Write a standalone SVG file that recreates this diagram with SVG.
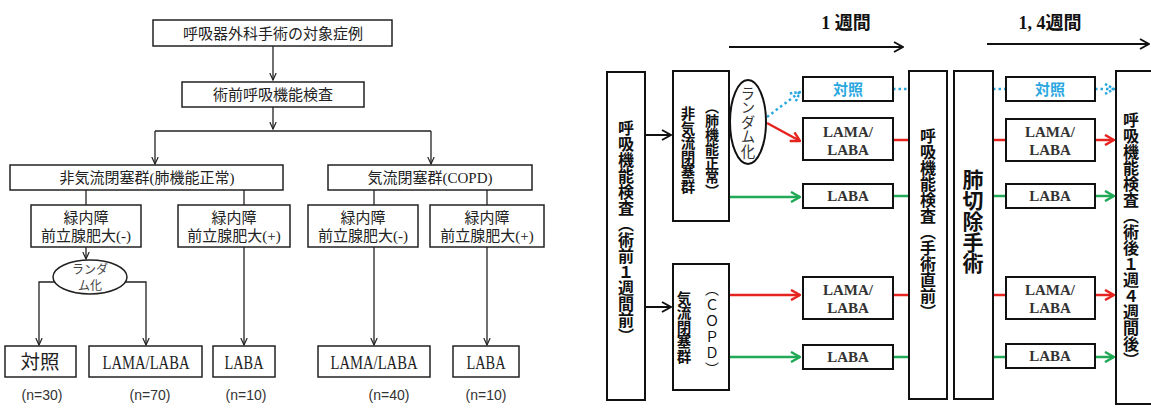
<svg xmlns="http://www.w3.org/2000/svg" width="1151" height="410" viewBox="0 0 1151 410">
<defs>
<style>
.bx{fill:#fff;stroke:#222;stroke-width:1.5}
.ln{fill:none;stroke:#222;stroke-width:1.3}
.jp{font-family:"Liberation Serif","Noto Sans CJK JP",serif;fill:#222;font-size:15px;text-anchor:middle}
.big{font-family:"Liberation Serif","Noto Sans CJK JP",serif;fill:#222;font-size:19.5px;text-anchor:middle}
.rnd{font-family:"Noto Sans CJK JP",sans-serif;fill:#444;font-size:12px;text-anchor:middle}
.n{font-family:"Liberation Sans",Arial,sans-serif;font-size:14px;fill:#333;text-anchor:middle}
.rb{fill:#fff;stroke:#111;stroke-width:2}
.vt{font-family:"Noto Sans CJK JP",sans-serif;font-weight:bold;font-size:16px;fill:#111;writing-mode:vertical-rl;text-anchor:middle}
.lt{font-family:"Liberation Serif",serif;font-weight:bold;font-size:15px;fill:#333;text-anchor:middle}
.bt{font-family:"Noto Sans CJK JP",sans-serif;font-weight:bold;font-size:15px;fill:#2aa7df;text-anchor:middle}
.hd{font-family:"Liberation Serif","Noto Sans CJK JP",serif;font-weight:bold;font-size:18px;fill:#111;text-anchor:middle}
.k{fill:none;stroke:#111;stroke-width:2}
.r{fill:none;stroke:#e52420;stroke-width:2.5}
.g{fill:none;stroke:#20a956;stroke-width:2.5}
.b{fill:none;stroke:#2aa7df;stroke-width:2.5;stroke-dasharray:2.5 3}
</style>
<marker id="aL" markerUnits="userSpaceOnUse" markerWidth="8" markerHeight="8" viewBox="0 0 8 8" refX="7.5" refY="4" orient="auto"><path d="M0.5,0.8 L7.5,4 L0.5,7.2" fill="none" stroke="#222" stroke-width="1.2"/></marker>
<marker id="aK" markerUnits="userSpaceOnUse" markerWidth="12" markerHeight="12" viewBox="0 0 12 12" refX="11" refY="6" orient="auto"><path d="M2,1 L11,6 L2,11" fill="none" stroke="#111" stroke-width="2"/></marker>
<marker id="aR" markerUnits="userSpaceOnUse" markerWidth="12" markerHeight="12" viewBox="0 0 12 12" refX="11" refY="6" orient="auto"><path d="M2,1 L11,6 L2,11" fill="none" stroke="#e52420" stroke-width="2.5"/></marker>
<marker id="aG" markerUnits="userSpaceOnUse" markerWidth="12" markerHeight="12" viewBox="0 0 12 12" refX="11" refY="6" orient="auto"><path d="M2,1 L11,6 L2,11" fill="none" stroke="#20a956" stroke-width="2.5"/></marker>
<marker id="aB" markerUnits="userSpaceOnUse" markerWidth="12" markerHeight="12" viewBox="0 0 12 12" refX="11" refY="6" orient="auto"><path d="M2,1 L11,6 L2,11" fill="none" stroke="#2aa7df" stroke-width="2.5" stroke-dasharray="2.5 2"/></marker>
</defs>
<rect width="1151" height="410" fill="#fff"/>

<!-- LEFT DIAGRAM connectors -->
<g id="left-connectors" class="ln">
<path d="M273,46 V80" marker-end="url(#aL)"/>
<path d="M273,107 V129" marker-end="url(#aL)"/>
<path d="M155,131 H431"/>
<path d="M155,131 V164" marker-end="url(#aL)"/>
<path d="M431,131 V164" marker-end="url(#aL)"/>
<path d="M86,190 V205"/>
<path d="M244,190 V205"/>
<path d="M374,190 V205"/>
<path d="M487,190 V205"/>
<path d="M86,247 V259" marker-end="url(#aL)"/>
<path d="M55,282 H39 V345" marker-end="url(#aL)"/>
<path d="M125,282 H146 V345" marker-end="url(#aL)"/>
<path d="M244,247 V345" marker-end="url(#aL)"/>
<path d="M374,247 V345" marker-end="url(#aL)"/>
<path d="M487,247 V345" marker-end="url(#aL)"/>
</g>

<g id="l-target"><rect class="bx" x="153" y="20" width="239" height="26"/><text class="jp" x="273" y="38.5">呼吸器外科手術の対象症例</text></g>
<g id="l-preop"><rect class="bx" x="182" y="82" width="182" height="25"/><text class="jp" x="273" y="100">術前呼吸機能検査</text></g>
<g id="l-nonobs"><rect class="bx" x="10" y="165" width="273" height="25"/><text class="jp" x="147" y="183">非気流閉塞群(肺機能正常)</text></g>
<g id="l-copd"><rect class="bx" x="328" y="165" width="204" height="25"/><text class="jp" x="430" y="183">気流閉塞群(COPD)</text></g>
<g id="l-a1"><rect class="bx" x="31" y="205" width="110" height="42"/><text class="jp" x="86" y="223">緑内障</text><text class="jp" x="86" y="241">前立腺肥大(-)</text></g>
<g id="l-a2"><rect class="bx" x="178" y="205" width="112" height="42"/><text class="jp" x="234" y="223">緑内障</text><text class="jp" x="234" y="241">前立腺肥大(+)</text></g>
<g id="l-b1"><rect class="bx" x="308" y="205" width="110" height="42"/><text class="jp" x="363" y="223">緑内障</text><text class="jp" x="363" y="241">前立腺肥大(-)</text></g>
<g id="l-b2"><rect class="bx" x="430" y="205" width="114" height="42"/><text class="jp" x="487" y="223">緑内障</text><text class="jp" x="487" y="241">前立腺肥大(+)</text></g>
<g id="l-random"><ellipse cx="90" cy="277" rx="37" ry="17" fill="#fff" stroke="#222" stroke-width="1.5"/><text class="rnd" x="90" y="273.5">ランダ</text><text class="rnd" x="90" y="289.5">ム化</text></g>
<g id="l-ctrl"><rect class="bx" x="5" y="346" width="71" height="31"/><text class="big" x="40" y="369">対照</text></g>
<g id="l-ll1"><rect class="bx" x="89" y="346" width="113" height="31"/><text class="big" x="146" y="369" textLength="87" lengthAdjust="spacingAndGlyphs">LAMA/LABA</text></g>
<g id="l-laba1"><rect class="bx" x="213" y="346" width="62" height="31"/><text class="big" x="244" y="369" textLength="39" lengthAdjust="spacingAndGlyphs">LABA</text></g>
<g id="l-ll2"><rect class="bx" x="318" y="346" width="112" height="31"/><text class="big" x="374" y="369" textLength="87" lengthAdjust="spacingAndGlyphs">LAMA/LABA</text></g>
<g id="l-laba2"><rect class="bx" x="453" y="346" width="66" height="31"/><text class="big" x="486" y="369" textLength="39" lengthAdjust="spacingAndGlyphs">LABA</text></g>
<g id="l-counts">
<text class="n" x="42" y="400">(n=30)</text>
<text class="n" x="150" y="400">(n=70)</text>
<text class="n" x="246" y="400">(n=10)</text>
<text class="n" x="389" y="400">(n=40)</text>
<text class="n" x="486" y="400">(n=10)</text>
</g>

<!-- RIGHT DIAGRAM -->
<g id="timeline">
<text class="hd" x="846" y="29">1 週間</text>
<path class="k" d="M729,47 H903" marker-end="url(#aK)"/>
<text class="hd" x="1050" y="29">1, 4週間</text>
<path class="k" d="M987,44 H1149" marker-end="url(#aK)"/>
</g>

<g id="right-connectors">
<path class="k" d="M645,135 H671" marker-end="url(#aK)"/>
<path class="k" d="M645,307 H671" marker-end="url(#aK)"/>
<path class="b" d="M767,117 L800,92" marker-end="url(#aB)"/>
<path class="r" d="M767,123 L800,141" marker-end="url(#aR)"/>
<path class="g" d="M729,197 H800" marker-end="url(#aG)"/>
<path class="r" d="M729,295 H800" marker-end="url(#aR)"/>
<path class="g" d="M729,357 H800" marker-end="url(#aG)"/>
<path class="b" d="M893,89 H909"/>
<path class="r" d="M893,140 H909"/>
<path class="g" d="M893,196 H909"/>
<path class="r" d="M893,295 H909"/>
<path class="g" d="M893,357 H909"/>
<path class="b" d="M993,89 H1006"/>
<path class="r" d="M993,140 H1006"/>
<path class="g" d="M993,196 H1006"/>
<path class="r" d="M993,295 H1006"/>
<path class="g" d="M993,357 H1006"/>
<path class="b" d="M1095,89 H1114" marker-end="url(#aB)"/>
<path class="r" d="M1095,140 H1114" marker-end="url(#aR)"/>
<path class="g" d="M1095,196 H1114" marker-end="url(#aG)"/>
<path class="r" d="M1095,295 H1114" marker-end="url(#aR)"/>
<path class="g" d="M1095,357 H1114" marker-end="url(#aG)"/>
</g>

<g id="r-preop"><rect class="rb" x="607" y="72" width="38" height="328"/><text class="vt" x="626" y="232">呼吸機能検査（術前１週間前）</text></g>
<g id="r-nonobs"><rect class="rb" x="673" y="71" width="56" height="150"/><text class="vt" x="688" y="150" style="font-size:14.5px">非気流閉塞群</text><text class="vt" x="712" y="149" style="font-size:14px">（肺機能正常）</text></g>
<g id="r-copd"><rect class="rb" x="673" y="264" width="56" height="126"/><text class="vt" x="684" y="327" style="font-size:14.5px">気流閉塞群</text><text class="vt" x="712" y="330" style="font-size:14px;font-weight:normal;letter-spacing:2px">（ＣＯＰＤ）</text></g>
<g id="r-random"><ellipse cx="748" cy="122" rx="18" ry="42" fill="#fff" stroke="#111" stroke-width="2"/><text class="vt" x="748" y="122" style="font-size:14.5px;font-weight:normal;fill:#333">ランダム化</text></g>
<g id="r-c1-ctrl"><rect class="rb" x="803" y="77" width="90" height="24"/><text class="bt" x="848" y="94.5">対照</text></g>
<g id="r-c1-ll1"><rect class="rb" x="803" y="118" width="90" height="42"/><text class="lt" x="848" y="137">LAMA/</text><text class="lt" x="848" y="155">LABA</text></g>
<g id="r-c1-laba1"><rect class="rb" x="803" y="184" width="90" height="24"/><text class="lt" x="848" y="201">LABA</text></g>
<g id="r-c1-ll2"><rect class="rb" x="803" y="277" width="90" height="42"/><text class="lt" x="848" y="295">LAMA/</text><text class="lt" x="848" y="313">LABA</text></g>
<g id="r-c1-laba2"><rect class="rb" x="803" y="345" width="90" height="24"/><text class="lt" x="848" y="362">LABA</text></g>
<g id="r-presurg"><rect class="rb" x="909" y="71" width="38" height="328"/><text class="vt" x="928" y="224">呼吸機能検査（手術直前）</text></g>
<g id="r-surgery"><rect class="rb" x="954" y="71" width="39" height="328"/><text class="vt" x="973" y="221" style="font-size:21px">肺切除手術</text></g>
<g id="r-c2-ctrl"><rect class="rb" x="1006" y="77" width="89" height="24"/><text class="bt" x="1050" y="94.5">対照</text></g>
<g id="r-c2-ll1"><rect class="rb" x="1006" y="119" width="89" height="42"/><text class="lt" x="1050" y="137">LAMA/</text><text class="lt" x="1050" y="155">LABA</text></g>
<g id="r-c2-laba1"><rect class="rb" x="1006" y="184" width="89" height="24"/><text class="lt" x="1050" y="201">LABA</text></g>
<g id="r-c2-ll2"><rect class="rb" x="1006" y="277" width="89" height="42"/><text class="lt" x="1050" y="295">LAMA/</text><text class="lt" x="1050" y="313">LABA</text></g>
<g id="r-c2-laba2"><rect class="rb" x="1006" y="344" width="89" height="24"/><text class="lt" x="1050" y="361">LABA</text></g>
<g id="r-postop"><rect class="rb" x="1116" y="71" width="45" height="333"/><text class="vt" x="1131" y="240">呼吸機能検査（術後１週４週間後）</text></g>
</svg>
